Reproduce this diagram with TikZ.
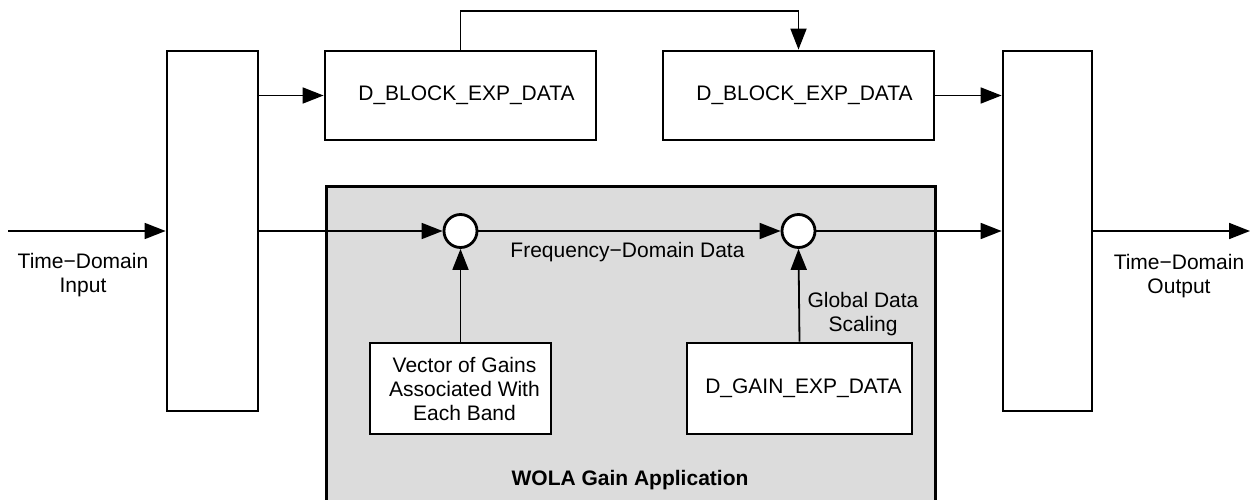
\documentclass[tikz,border=0pt]{standalone}
\usepackage{fontspec}
\setmainfont{Liberation Sans}
\usetikzlibrary{arrows.meta}
\definecolor{panelgray}{RGB}{220,220,220}
\tikzset{
  blk/.style={draw=black, line width=2.8pt, fill=white, inner sep=0pt, align=center, font=\fontsize{21}{24}\selectfont},
  sumnode/.style={draw=black, line width=2.8pt, fill=white, circle, inner sep=0pt, minimum size=33pt},
  panel/.style={draw=black, line width=2.8pt, fill=panelgray, inner sep=0pt},
  lbl/.style={align=center, inner sep=0pt, font=\fontsize{21}{24}\selectfont},
  arr/.style={line width=1.8pt, -{Triangle[length=21pt,width=16pt]}}
}
\begin{document}
\begin{tikzpicture}[x=1pt,y=-1pt]
\useasboundingbox (0,0) rectangle (1251,500);
\clip (0,0) rectangle (1251,500);
% gray panel
\node[panel, minimum width=609pt, minimum height=340pt, anchor=north west] (panel) at (325,185) {};
% blocks
\node[blk, minimum width=91pt, minimum height=360pt] (L) at (212.5,231) {};
\node[blk, minimum width=89pt, minimum height=360pt] (R) at (1047.5,231) {};
\node[blk, minimum width=271pt, minimum height=89pt] (b1) at (460.5,95.5) {\hspace{12pt}D\_BLOCK\_EXP\_DATA};
\node[blk, minimum width=271pt, minimum height=89pt] (b2) at (798.5,95.5) {\hspace{12pt}D\_BLOCK\_EXP\_DATA};
\node[blk, minimum width=181pt, minimum height=91pt] (v) at (460.5,388.5) {\hspace{8pt}Vector of Gains\\\hspace{8pt}Associated With\\\hspace{8pt}Each Band};
\node[blk, minimum width=225pt, minimum height=91pt] (g) at (799.5,388.5) {\hspace{8pt}D\_GAIN\_EXP\_DATA};
\node[sumnode] (c1) at (460.5,231) {};
\node[sumnode] (c2) at (798.5,231) {};
% coordinates
\coordinate (in) at (8,231);
\coordinate (out) at (1250,231);
\coordinate (top) at (630,11);
% connectors
\draw[arr] (in) -- (L.west);
\draw[arr] (b1.west -| L.east) -- (b1.west);
\draw[arr] (b1.north) |- (top) -| (b2.north);
\draw[arr] (b2.east) -- (b2.east -| R.west);
\draw[arr] (c1.west -| L.east) -- (c1.west);
\draw[arr] (c1.east) -- (c2.west);
\draw[arr] (c2.east) -- (c2.east -| R.west);
\draw[arr] (R.east) -- (out);
\draw[arr] (v.north) -- (c1.south);
\draw[arr] (g.north) -- (c2.south);
% labels
\node[lbl] (tin) at (83,275) {Time−Domain\\Input};
\node[lbl] (tout) at (1179,276) {Time−Domain\\Output};
\node[lbl] (fdd) at (627.5,252) {Frequency−Domain Data};
\node[lbl] (gds) at (863,314) {Global Data\\Scaling};
\node[lbl, font=\fontsize{21}{24}\selectfont\bfseries] (wola) at (630,480) {WOLA Gain Application};
\end{tikzpicture}
\end{document}
